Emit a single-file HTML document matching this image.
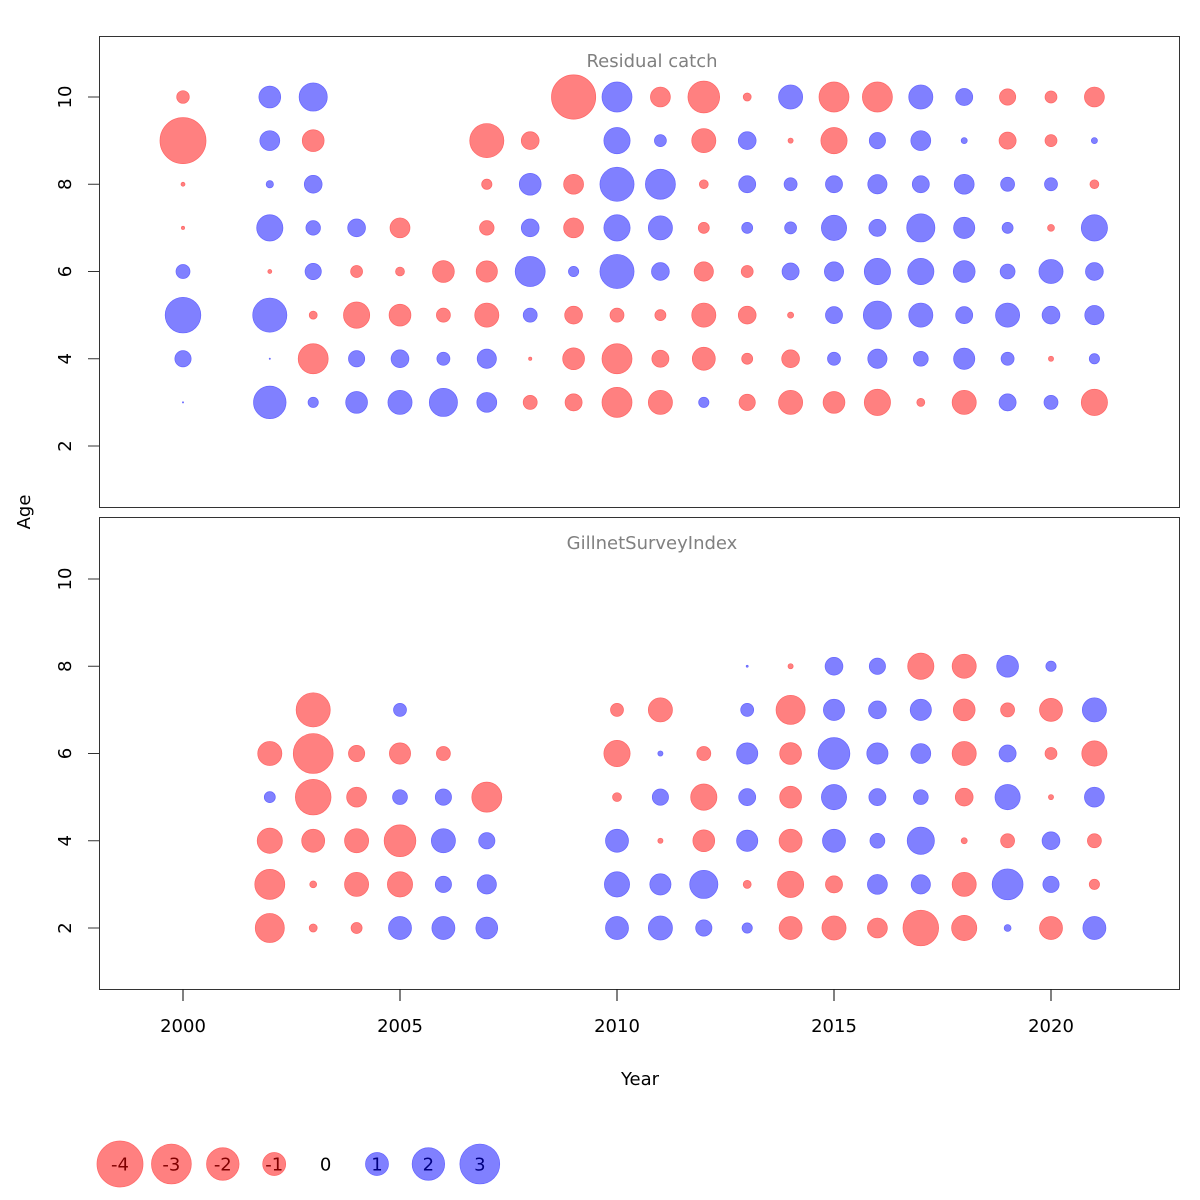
<!DOCTYPE html>
<html><head><meta charset="utf-8"><style>
html,body{margin:0;padding:0;background:#fff;}
svg{display:block;font-family:"DejaVu Sans","Liberation Sans",sans-serif;}
</style></head><body>
<svg id="chart" width="1200" height="1200" viewBox="0 0 1200 1200">
<rect x="99.5" y="36.5" width="1080" height="471" fill="none" stroke="#333"/>
<rect x="99.5" y="517.5" width="1080" height="472" fill="none" stroke="#333"/>
<text x="652" y="67" text-anchor="middle" font-size="18" fill="#808080">Residual catch</text>
<text x="652" y="549" text-anchor="middle" font-size="18" fill="#808080">GillnetSurveyIndex</text>
<text x="640" y="1085" text-anchor="middle" font-size="18">Year</text>
<text transform="translate(30,512) rotate(-90)" text-anchor="middle" font-size="18">Age</text>
<g id="layer"></g>
</svg>
<script>
const xTicks=[2000,2005,2010,2015,2020];
const yTicks=[2,4,6,8,10];
const legendVals=[-4,-3,-2,-1,0,1,2,3];
// [year, age, residual]
const catchData=[
[2000,10,-0.3],[2000,9,-4],[2000,8,-0.03],[2000,7,-0.02],[2000,6,0.37],[2000,5,2.4],[2000,4,0.5],[2000,3,0.003],
[2002,10,0.9],[2002,9,0.75],[2002,8,0.1],[2002,7,1.3],[2002,6,-0.03],[2002,5,2.2],[2002,4,0.003],[2002,3,2],
[2003,10,1.5],[2003,9,-0.9],[2003,8,0.6],[2003,7,0.4],[2003,6,0.5],[2003,5,-0.12],[2003,4,-1.7],[2003,3,0.2],
[2004,7,0.6],[2004,6,-0.27],[2004,5,-1.3],[2004,4,0.5],[2004,3,0.9],
[2005,7,-0.75],[2005,6,-0.15],[2005,5,-0.9],[2005,4,0.6],[2005,3,1.1],
[2006,6,-0.9],[2006,5,-0.37],[2006,4,0.32],[2006,3,1.5],
[2007,9,-2.2],[2007,8,-0.2],[2007,7,-0.4],[2007,6,-0.85],[2007,5,-1.1],[2007,4,0.7],[2007,3,0.75],
[2008,9,-0.6],[2008,8,0.9],[2008,7,0.6],[2008,6,1.7],[2008,5,0.37],[2008,4,-0.02],[2008,3,-0.37],
[2009,10,-3.7],[2009,8,-0.75],[2009,7,-0.75],[2009,6,0.2],[2009,5,-0.6],[2009,4,-0.9],[2009,3,-0.55],
[2010,10,1.7],[2010,9,1.3],[2010,8,2.2],[2010,7,1.3],[2010,6,2.2],[2010,5,-0.37],[2010,4,-1.7],[2010,3,-1.7],
[2011,10,-0.75],[2011,9,0.27],[2011,8,1.7],[2011,7,1.1],[2011,6,0.6],[2011,5,-0.23],[2011,4,-0.55],[2011,3,-1.1],
[2012,10,-1.9],[2012,9,-1.1],[2012,8,-0.15],[2012,7,-0.23],[2012,6,-0.7],[2012,5,-1.1],[2012,4,-1],[2012,3,0.2],
[2013,10,-0.12],[2013,9,0.6],[2013,8,0.55],[2013,7,0.23],[2013,6,-0.27],[2013,5,-0.6],[2013,4,-0.23],[2013,3,-0.5],
[2014,10,1.1],[2014,9,-0.05],[2014,8,0.32],[2014,7,0.27],[2014,6,0.55],[2014,5,-0.07],[2014,4,-0.6],[2014,3,-1.1],
[2015,10,-1.7],[2015,9,-1.3],[2015,8,0.55],[2015,7,1.2],[2015,6,0.7],[2015,5,0.55],[2015,4,0.32],[2015,3,-0.9],
[2016,10,-1.7],[2016,9,0.5],[2016,8,0.7],[2016,7,0.55],[2016,6,1.3],[2016,5,1.5],[2016,4,0.7],[2016,3,-1.3],
[2017,10,1.1],[2017,9,0.75],[2017,8,0.55],[2017,7,1.5],[2017,6,1.3],[2017,5,1.1],[2017,4,0.42],[2017,3,-0.12],
[2018,10,0.55],[2018,9,0.07],[2018,8,0.75],[2018,7,0.85],[2018,6,0.9],[2018,5,0.55],[2018,4,0.85],[2018,3,-1.1],
[2019,10,-0.5],[2019,9,-0.55],[2019,8,0.37],[2019,7,0.23],[2019,6,0.42],[2019,5,1.1],[2019,4,0.32],[2019,3,0.55],
[2020,10,-0.27],[2020,9,-0.27],[2020,8,0.32],[2020,7,-0.09],[2020,6,1.1],[2020,5,0.6],[2020,4,-0.05],[2020,3,0.37],
[2021,10,-0.75],[2021,9,0.07],[2021,8,-0.15],[2021,7,1.3],[2021,6,0.6],[2021,5,0.7],[2021,4,0.2],[2021,3,-1.3]
];
const surveyData=[
[2002,6,-1.1],[2002,5,0.23],[2002,4,-1.2],[2002,3,-1.7],[2002,2,-1.6],
[2003,7,-2.2],[2003,6,-3],[2003,5,-2.4],[2003,4,-1],[2003,3,-0.09],[2003,2,-0.12],
[2004,6,-0.5],[2004,5,-0.75],[2004,4,-1.1],[2004,3,-1.1],[2004,2,-0.23],
[2005,7,0.32],[2005,6,-0.85],[2005,5,0.42],[2005,4,-1.9],[2005,3,-1.2],[2005,2,1],
[2006,6,-0.37],[2006,5,0.5],[2006,4,1.1],[2006,3,0.5],[2006,2,1],
[2007,5,-1.7],[2007,4,0.5],[2007,3,0.7],[2007,2,0.9],
[2010,7,-0.32],[2010,6,-1.3],[2010,5,-0.15],[2010,4,1],[2010,3,1.2],[2010,2,1],
[2011,7,-1.1],[2011,6,0.05],[2011,5,0.5],[2011,4,-0.05],[2011,3,0.85],[2011,2,1.1],
[2012,6,-0.37],[2012,5,-1.3],[2012,4,-0.9],[2012,3,1.5],[2012,2,0.5],
[2013,8,0.008],[2013,7,0.32],[2013,6,0.85],[2013,5,0.55],[2013,4,0.85],[2013,3,-0.12],[2013,2,0.2],
[2014,8,-0.05],[2014,7,-1.6],[2014,6,-0.9],[2014,5,-0.9],[2014,4,-1],[2014,3,-1.3],[2014,2,-1],
[2015,8,0.6],[2015,7,0.85],[2015,6,1.9],[2015,5,1.2],[2015,4,1],[2015,3,-0.55],[2015,2,-1.1],
[2016,8,0.5],[2016,7,0.6],[2016,6,0.85],[2016,5,0.55],[2016,4,0.42],[2016,3,0.75],[2016,2,-0.75],
[2017,8,-1.3],[2017,7,0.85],[2017,6,0.75],[2017,5,0.42],[2017,4,1.4],[2017,3,0.7],[2017,2,-2.4],
[2018,8,-1.1],[2018,7,-0.9],[2018,6,-1.1],[2018,5,-0.6],[2018,4,-0.07],[2018,3,-1.1],[2018,2,-1.2],
[2019,8,0.9],[2019,7,-0.37],[2019,6,0.55],[2019,5,1.2],[2019,4,-0.37],[2019,3,1.8],[2019,2,0.09],
[2020,8,0.2],[2020,7,-1],[2020,6,-0.27],[2020,5,-0.05],[2020,4,0.6],[2020,3,0.5],[2020,2,-1],
[2021,7,1.1],[2021,6,-1.2],[2021,5,0.75],[2021,4,-0.37],[2021,3,-0.2],[2021,2,1]
];
const NS="http://www.w3.org/2000/svg";
const layer=document.getElementById('layer');
const xScale=y=>183+(y-2000)*43.4;
const yTop=a=>97+(10-a)*43.625;
const yBot=a=>579+(10-a)*43.625;
const rScale=v=>11.5*Math.sqrt(Math.abs(v));
function mk(tag,attrs){const e=document.createElementNS(NS,tag);for(const k in attrs)e.setAttribute(k,attrs[k]);layer.appendChild(e);return e;}
function bubble(cx,cy,v){
  return mk('circle',{cx:cx,cy:cy,r:Math.max(rScale(v),0.4),fill:v<0?'#ff8080':'#8080ff',stroke:v<0?'#ff6666':'#6666ff','stroke-width':0.7});
}
catchData.forEach(d=>{
  const c=bubble(xScale(d[0]),yTop(d[1]),d[2]);
  
  
});
surveyData.forEach(d=>{
  const c=bubble(xScale(d[0]),yBot(d[1]),d[2]);
  
  
});
xTicks.forEach(t=>{
  const x=xScale(t);
  const l=mk('line',{x1:x,x2:x,y1:989.5,y2:1001,stroke:'#000'});
  
  
  const tx=mk('text',{x:x,y:1032,'text-anchor':'middle','font-size':18});
  tx.textContent=t;
  
  
});
[yTop,yBot].forEach(fy=>{
  yTicks.forEach(t=>{
    const y=fy(t);
    const l=mk('line',{x1:88,x2:99.5,y1:y,y2:y,stroke:'#333'});
    
    
    const tx=mk('text',{transform:`translate(71,${y}) rotate(-90)`,'text-anchor':'middle','font-size':18});
    tx.textContent=t;
    
    
  });
});
legendVals.forEach((v,i)=>{
  const cx=120+i*51.4, cy=1164;
  if(v!==0){
    const c=bubble(cx,cy,v);
    
    
  }
  const tx=mk('text',{x:cx,y:cy+6.5,'text-anchor':'middle','font-size':18,fill:v<0?'#800000':(v>0?'#000080':'#000')});
  tx.textContent=v;
  
  
});
</script>
</body></html>
